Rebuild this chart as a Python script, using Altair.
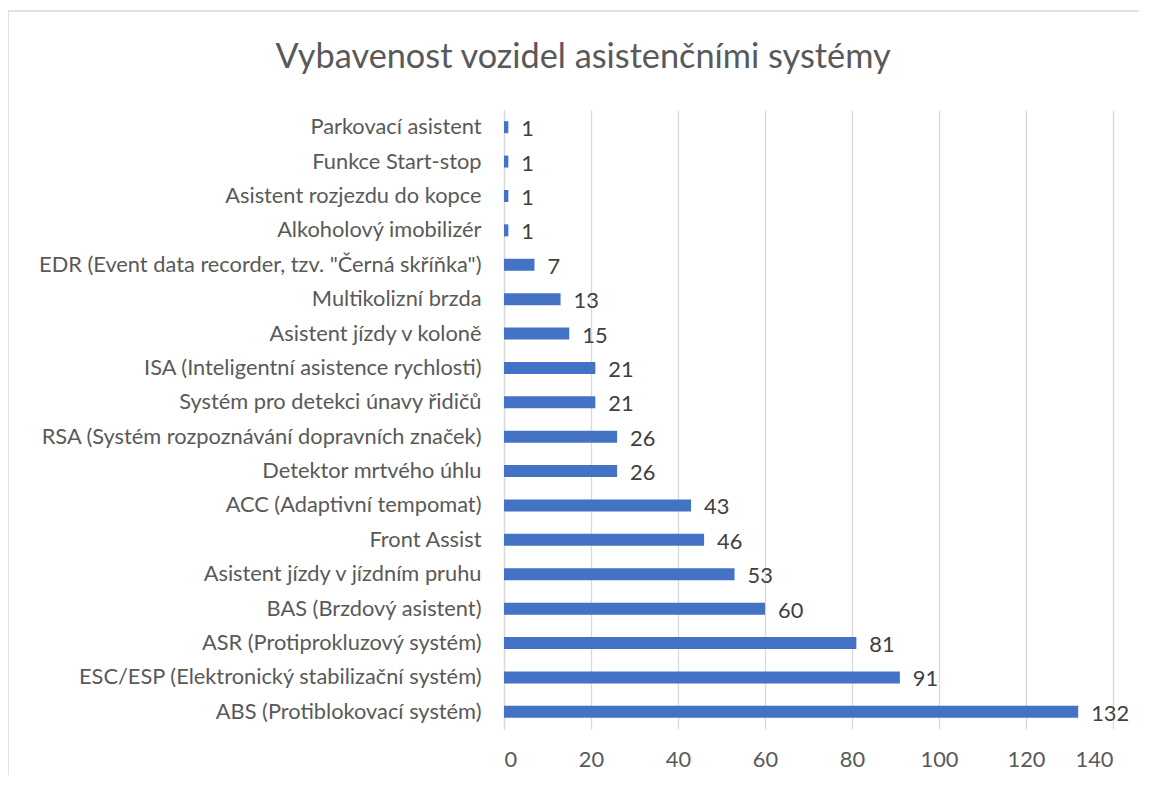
import altair as alt
import pandas as pd

categories = [
    "Parkovací asistent\u00a0",
    "Funkce Start-stop",
    "Asistent rozjezdu do kopce",
    "Alkoholový imobilizér",
    "EDR (Event data recorder, tzv. \"Černá skříňka\")",
    "Multikolizní brzda",
    "Asistent jízdy v koloně",
    "ISA (Inteligentní asistence rychlosti)",
    "Systém pro detekci únavy řidičů",
    "RSA (Systém rozpoznávání dopravních značek)",
    "Detektor mrtvého úhlu",
    "ACC (Adaptivní tempomat)",
    "Front Assist",
    "Asistent jízdy v jízdním pruhu",
    "BAS (Brzdový asistent)",
    "ASR (Protiprokluzový systém)",
    "ESC/ESP (Elektronický stabilizační systém)",
    "ABS (Protiblokovací systém)",
]
values = [1, 1, 1, 1, 7, 13, 15, 21, 21, 26, 26, 43, 46, 53, 60, 81, 91, 132]
x_ticks = [0, 20, 40, 60, 80, 100, 120, 140]
TITLE = "Vybavenost vozidel asistenčními systémy"

df = pd.DataFrame({"cat": categories, "val": values})

FONT = "Lato"
FS = 21.8
W, H = 609, 619

x = alt.X("val:Q", scale=alt.Scale(domain=[0, 140], nice=False),
          axis=alt.Axis(values=x_ticks, title=None, grid=True, gridColor="#d9d9d9",
                        gridWidth=1.3, domain=False, ticks=False, labelFont=FONT,
                        labelFontSize=FS, labelColor="#595959", labelPadding=20))
y = alt.Y("cat:N", sort=categories, scale=alt.Scale(paddingInner=0, paddingOuter=0),
          axis=alt.Axis(title=None, domain=True, domainColor="#d9d9d9", domainWidth=1.3,
                        ticks=False, labelFont=FONT, labelFontSize=FS,
                        labelColor="#595959", labelPadding=23, labelLimit=0))

bars = alt.Chart(df).mark_bar(size=12, color="#4472C4").encode(x=x, y=y)
labels = alt.Chart(df).mark_text(align="left", baseline="middle", dx=13, dy=2,
                                 font=FONT, fontSize=FS, color="#404040").encode(
    x="val:Q", y=alt.Y("cat:N", sort=categories), text="val:Q")

title_df = pd.DataFrame({"t": [TITLE]})
title = alt.Chart(title_df).mark_text(align="center", baseline="alphabetic", font=FONT,
                                      fontSize=34.3, color="#595959").encode(
    x=alt.value(79), y=alt.value(-42), text="t:N")

border_df = pd.DataFrame({"k": [0]})
top_rule = alt.Chart(border_df).mark_rule(color="#d9d9d9", strokeWidth=1.5).encode(
    x=alt.value(-496), x2=alt.value(660), y=alt.value(-99))
left_rule = alt.Chart(border_df).mark_rule(color="#d9d9d9", strokeWidth=1.5).encode(
    x=alt.value(-496), y=alt.value(-99), y2=alt.value(680))

chart = alt.layer(top_rule, left_rule, title, bars, labels).properties(
    width=W, height=H,
    autosize=alt.AutoSizeParams(type="none"),
    padding={"left": 496, "top": 102, "right": 26, "bottom": 46},
).configure_view(stroke=None)

chart.save("out.html", embed_options={"renderer": "svg", "actions": False})
